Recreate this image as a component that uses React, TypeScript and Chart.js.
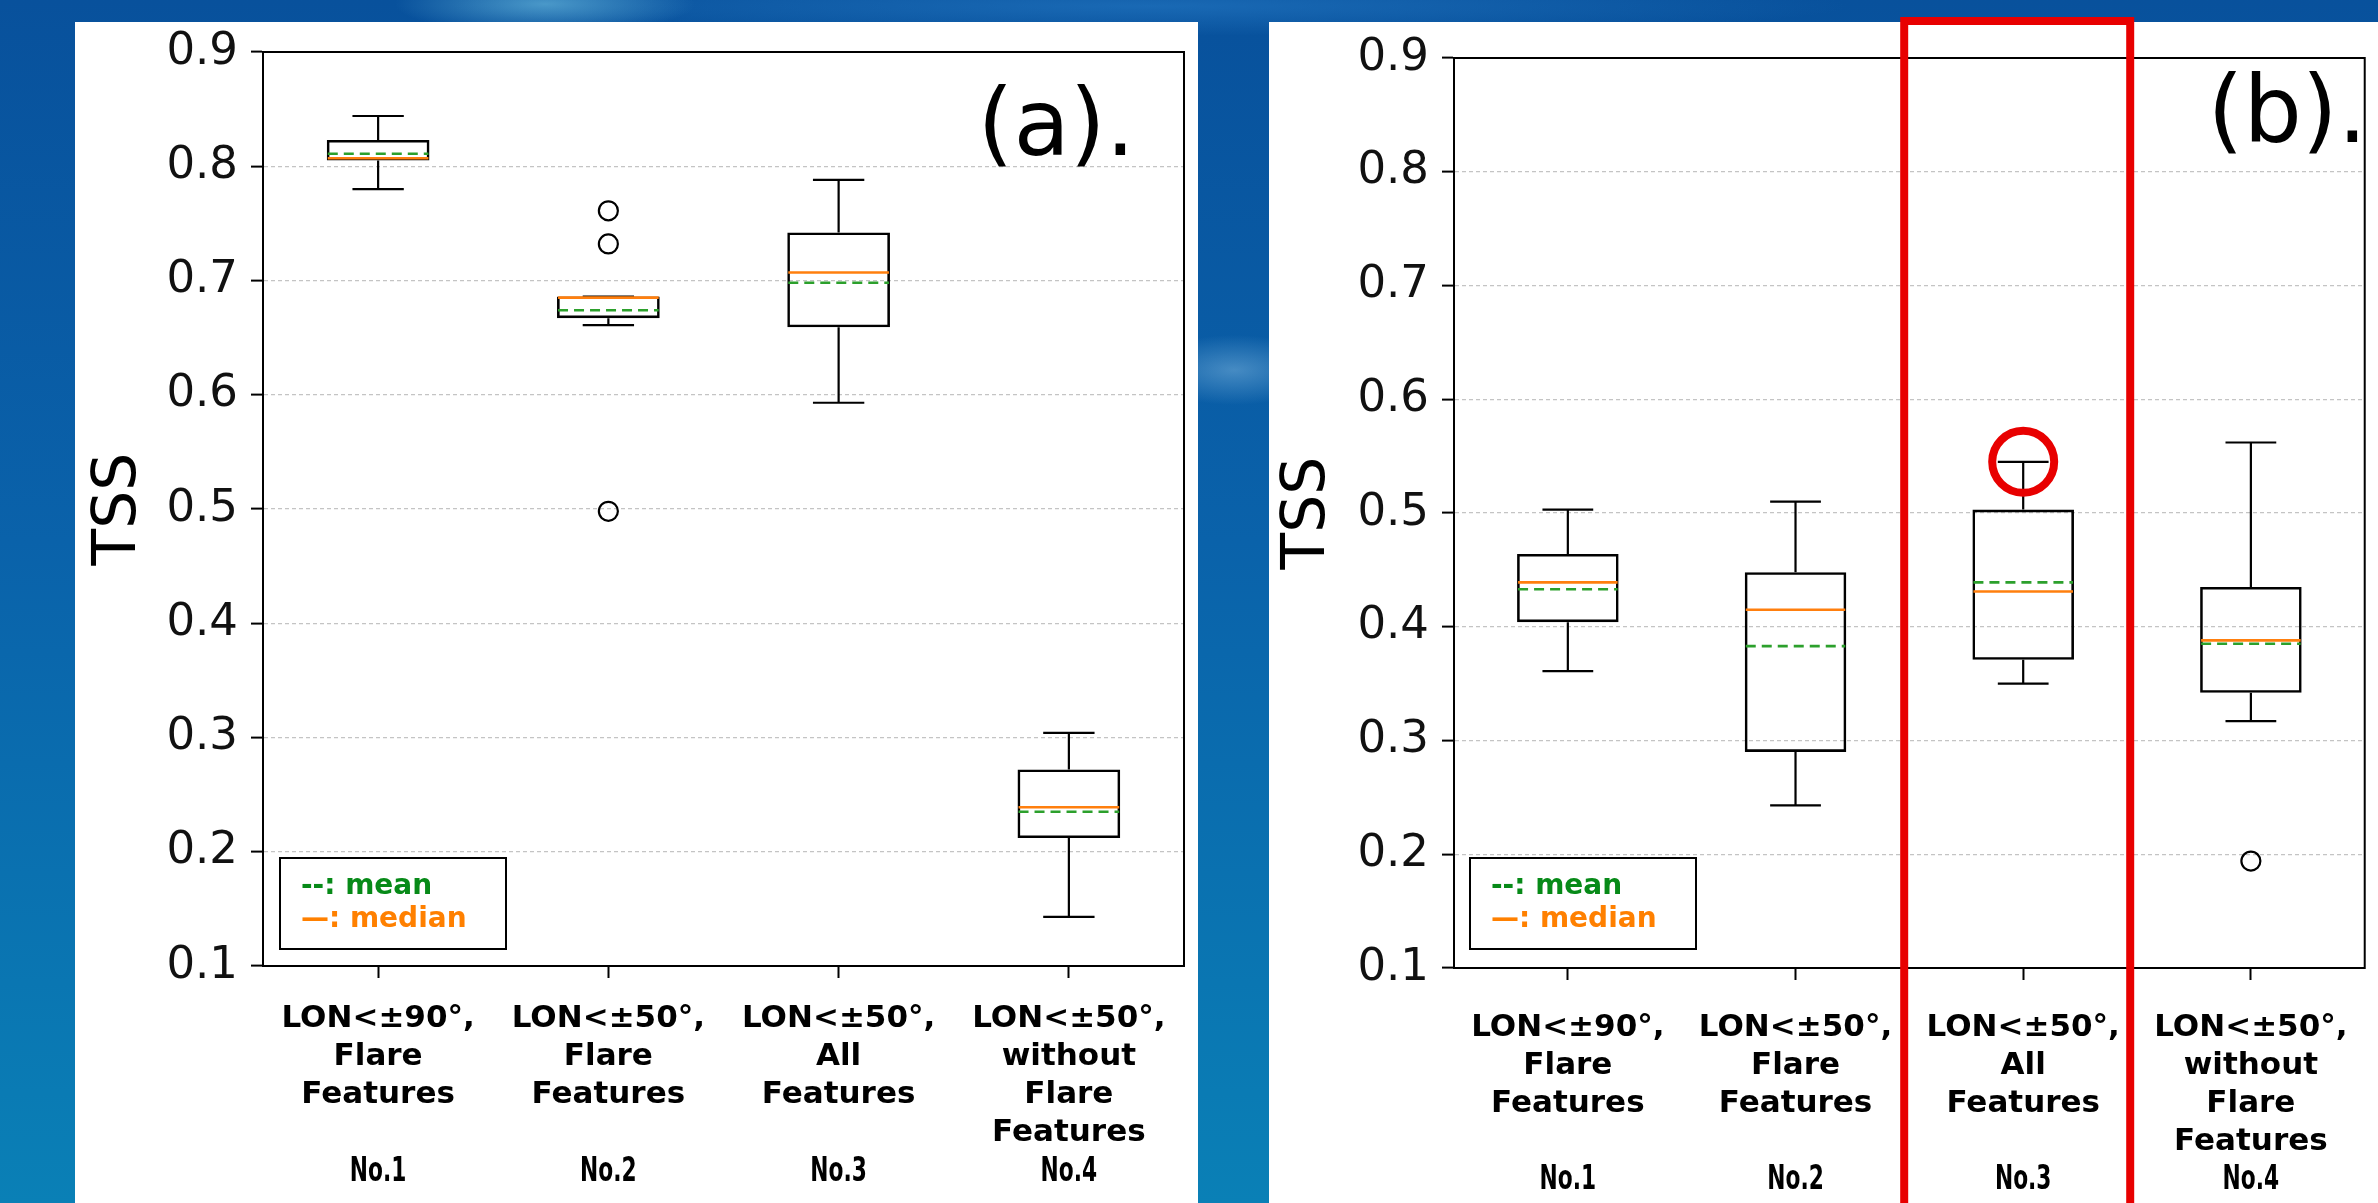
import React, { useEffect, useRef } from "react";
import { Chart, registerables } from "chart.js";

Chart.register(...registerables);

// ---------- data ----------
const categoryNumbers = ["No.1", "No.2", "No.3", "No.4"];
const categoryLines = [
  ["LON<±90°,", "Flare", "Features"],
  ["LON<±50°,", "Flare", "Features"],
  ["LON<±50°,", "All", "Features"],
  ["LON<±50°,", "without", "Flare", "Features"],
];
const yTickValues = [0.1, 0.2, 0.3, 0.4, 0.5, 0.6, 0.7, 0.8, 0.9];
const yTickLabels = ["0.1", "0.2", "0.3", "0.4", "0.5", "0.6", "0.7", "0.8", "0.9"];
const yAxisTitle = "TSS";
const legendMean = "--: mean";
const legendMedian = "—: median";

// Panel (a)
const aWhiskerLow = [0.78, 0.661, 0.593, 0.143];
const aQ1 = [0.805, 0.667, 0.659, 0.212];
const aMedian = [0.807, 0.685, 0.707, 0.239];
const aMean = [0.811, 0.674, 0.698, 0.235];
const aQ3 = [0.823, 0.686, 0.742, 0.272];
const aWhiskerHigh = [0.844, 0.686, 0.788, 0.304];
const aOutlierCategory = [1, 1, 1];
const aOutlierValue = [0.761, 0.732, 0.498];

// Panel (b)
const bWhiskerLow = [0.361, 0.243, 0.35, 0.317];
const bQ1 = [0.404, 0.29, 0.371, 0.342];
const bMedian = [0.439, 0.415, 0.431, 0.388];
const bMean = [0.433, 0.383, 0.439, 0.385];
const bQ3 = [0.464, 0.448, 0.503, 0.435];
const bWhiskerHigh = [0.503, 0.51, 0.545, 0.562];
const bOutlierCategory = [3];
const bOutlierValue = [0.194];

// ---------- layout ----------
const PAGE_W = 2378;
const PAGE_H = 1203;
const WHITE_TOP = 22;
const FONT = "'DejaVu Sans', 'Noto Sans', sans-serif";

type PanelSpec = {
  tag: string;
  low: number[];
  q1: number[];
  median: number[];
  mean: number[];
  q3: number[];
  high: number[];
  outlierCategory: number[];
  outlierValue: number[];
  highlight: number | null;
  pageLeft: number;
  width: number;
  areaTop: number;
  areaBottom: number;
  yAxisWidth: number;
  rightPad: number;
  xLabelPad: number;
  titlePad: number;
  tagRight: number;
  tagBaseline: number;
  legendLeft: number;
  legendTop: number;
  noLabelY: number;
};

const panelA: PanelSpec = {
  tag: "(a).",
  low: aWhiskerLow,
  q1: aQ1,
  median: aMedian,
  mean: aMean,
  q3: aQ3,
  high: aWhiskerHigh,
  outlierCategory: aOutlierCategory,
  outlierValue: aOutlierValue,
  highlight: null,
  pageLeft: 75,
  width: 1123,
  areaTop: 52,
  areaBottom: 966,
  yAxisWidth: 188,
  rightPad: 14,
  xLabelPad: 22,
  titlePad: 8,
  tagRight: 1060,
  tagBaseline: 155,
  legendLeft: 205,
  legendTop: 858,
  noLabelY: 1172,
};

const panelB: PanelSpec = {
  tag: "(b).",
  low: bWhiskerLow,
  q1: bQ1,
  median: bMedian,
  mean: bMean,
  q3: bQ3,
  high: bWhiskerHigh,
  outlierCategory: bOutlierCategory,
  outlierValue: bOutlierValue,
  highlight: 2,
  pageLeft: 1269,
  width: 1109,
  areaTop: 58,
  areaBottom: 968,
  yAxisWidth: 185,
  rightPad: 10,
  xLabelPad: 29,
  titlePad: 3,
  tagRight: 1098,
  tagBaseline: 142,
  legendLeft: 201,
  legendTop: 858,
  noLabelY: 1180,
};

function makePlugin(p: PanelSpec) {
  return {
    id: "tssBox",
    beforeDraw(chart: any) {
      const ctx = chart.ctx;
      ctx.save();
      ctx.fillStyle = "#ffffff";
      ctx.fillRect(0, WHITE_TOP, chart.width, chart.height - WHITE_TOP);
      ctx.restore();
    },
    afterDatasetsDraw(chart: any) {
      const ctx: CanvasRenderingContext2D = chart.ctx;
      const xs = chart.scales.x;
      const ys = chart.scales.y;
      const area = chart.chartArea;
      const meta = chart.getDatasetMeta(0);
      ctx.save();
      for (let i = 0; i < p.q1.length; i++) {
        const bar: any = meta.data[i];
        const cx = xs.getPixelForValue(i);
        const w = bar.width;
        const yLow = ys.getPixelForValue(p.low[i]);
        const yQ1 = ys.getPixelForValue(p.q1[i]);
        const yMed = ys.getPixelForValue(p.median[i]);
        const yMean = ys.getPixelForValue(p.mean[i]);
        const yQ3 = ys.getPixelForValue(p.q3[i]);
        const yHigh = ys.getPixelForValue(p.high[i]);
        ctx.setLineDash([]);
        ctx.strokeStyle = "#000";
        ctx.lineWidth = 2.2;
        ctx.beginPath();
        ctx.moveTo(cx, yQ3);
        ctx.lineTo(cx, yHigh);
        ctx.moveTo(cx, yQ1);
        ctx.lineTo(cx, yLow);
        ctx.moveTo(cx - w / 4, yHigh);
        ctx.lineTo(cx + w / 4, yHigh);
        ctx.moveTo(cx - w / 4, yLow);
        ctx.lineTo(cx + w / 4, yLow);
        ctx.stroke();
        // median
        ctx.strokeStyle = "#ff7f0e";
        ctx.lineWidth = 2.6;
        ctx.beginPath();
        ctx.moveTo(cx - w / 2 + 1, yMed);
        ctx.lineTo(cx + w / 2 - 1, yMed);
        ctx.stroke();
        // mean
        ctx.strokeStyle = "#2ca02c";
        ctx.lineWidth = 2.6;
        ctx.setLineDash([10, 6]);
        ctx.beginPath();
        ctx.moveTo(cx - w / 2 + 1, yMean);
        ctx.lineTo(cx + w / 2 - 1, yMean);
        ctx.stroke();
      }
      ctx.setLineDash([]);

      // frame
      ctx.strokeStyle = "#000";
      ctx.lineWidth = 2;
      ctx.strokeRect(area.left, area.top, area.right - area.left, area.bottom - area.top);

      // legend box
      ctx.fillStyle = "#fff";
      ctx.fillRect(p.legendLeft, p.legendTop, 226, 91);
      ctx.strokeStyle = "#000";
      ctx.lineWidth = 2;
      ctx.strokeRect(p.legendLeft, p.legendTop, 226, 91);
      ctx.textAlign = "left";
      ctx.textBaseline = "alphabetic";
      ctx.font = `bold 28px ${FONT}`;
      ctx.fillStyle = "#078a18";
      ctx.fillText(legendMean, p.legendLeft + 21, p.legendTop + 36);
      ctx.fillStyle = "#ff8000";
      ctx.fillText(legendMedian, p.legendLeft + 21, p.legendTop + 69);

      // panel tag
      ctx.fillStyle = "#000";
      ctx.textAlign = "right";
      ctx.font = `92px ${FONT}`;
      ctx.fillText(p.tag, p.tagRight, p.tagBaseline);

      // No. labels (narrow face: horizontally condensed text)
      ctx.textAlign = "center";
      ctx.textBaseline = "middle";
      ctx.font = `bold 34px ${FONT}`;
      for (let i = 0; i < categoryNumbers.length; i++) {
        const nx = xs.getPixelForValue(i);
        ctx.save();
        ctx.translate(nx, p.noLabelY);
        ctx.scale(0.64, 1);
        ctx.fillText(categoryNumbers[i], 0, 0);
        ctx.restore();
      }

      // highlight
      if (p.highlight !== null) {
        const hx = xs.getPixelForValue(p.highlight);
        ctx.strokeStyle = "#e80000";
        ctx.lineWidth = 8;
        ctx.strokeRect(hx - 119, 21, 226, PAGE_H + 10);
        ctx.beginPath();
        ctx.arc(hx, ys.getPixelForValue(p.high[p.highlight]), 31, 0, Math.PI * 2);
        ctx.stroke();
      }
      ctx.restore();
    },
  };
}

function buildConfig(p: PanelSpec): any {
  return {
    type: "bar",
    data: {
      labels: categoryNumbers,
      datasets: [
        {
          type: "bar",
          data: p.q1.map((v, i) => [v, p.q3[i]]),
          backgroundColor: "rgba(0,0,0,0)",
          borderColor: "#000",
          borderWidth: 2.6,
          borderSkipped: false,
          barPercentage: 0.446,
          categoryPercentage: 1,
          xAxisID: "x",
          yAxisID: "y",
        },
        {
          type: "scatter",
          data: p.outlierCategory.map((c, k) => ({ x: categoryNumbers[c], y: p.outlierValue[k] })),
          pointRadius: 9.5,
          pointHoverRadius: 9.5,
          pointBorderWidth: 2.2,
          pointBorderColor: "#000",
          pointBackgroundColor: "rgba(0,0,0,0)",
          showLine: false,
          xAxisID: "x",
          yAxisID: "y",
        },
      ],
    },
    options: {
      responsive: false,
      maintainAspectRatio: false,
      animation: false,
      devicePixelRatio: 1,
      events: [],
      layout: { padding: { top: p.areaTop, right: p.rightPad, left: 0, bottom: 0 } },
      plugins: { legend: { display: false }, tooltip: { enabled: false } },
      scales: {
        x: {
          type: "category",
          offset: true,
          grid: {
            display: true,
            drawOnChartArea: false,
            drawTicks: true,
            tickLength: 12,
            tickWidth: 2,
            tickColor: "#000",
            offset: false,
          },
          border: { display: true, color: "#000", width: 2 },
          ticks: {
            callback: (_v: any, i: number) => categoryLines[i],
            color: "#000",
            font: { family: FONT, size: 31, weight: "bold", lineHeight: 38 / 31 },
            padding: p.xLabelPad,
            maxRotation: 0,
            minRotation: 0,
            autoSkip: false,
          },
          afterFit: (s: any) => {
            s.height = PAGE_H - p.areaBottom;
          },
        },
        y: {
          type: "linear",
          min: 0.1,
          max: 0.9,
          afterBuildTicks: (s: any) => {
            s.ticks = yTickValues.map((v) => ({ value: v }));
          },
          ticks: {
            callback: (_v: any, i: number) => yTickLabels[i],
            color: "#111",
            font: { family: FONT, size: 45 },
            padding: 13,
          },
          grid: {
            color: (c: any) => {
              const v = c.tick ? c.tick.value : 0;
              return Math.abs(v - 0.1) < 1e-6 || Math.abs(v - 0.9) < 1e-6 ? "rgba(0,0,0,0)" : "#c4c4c4";
            },
            lineWidth: 1.2,
            tickLength: 12,
            tickWidth: 2,
            tickColor: "#000",
          },
          border: { display: true, color: "#000", width: 2, dash: [4, 3] },
          title: {
            display: true,
            text: yAxisTitle,
            color: "#000",
            font: { family: FONT, size: 60 },
            padding: { top: p.titlePad, bottom: 0 },
          },
          afterFit: (s: any) => {
            s.width = p.yAxisWidth;
          },
        },
      },
    },
    plugins: [makePlugin(p)],
  };
}

function PanelChart({ spec }: { spec: PanelSpec }) {
  const ref = useRef<HTMLCanvasElement>(null);
  useEffect(() => {
    if (!ref.current) return;
    const chart = new Chart(ref.current, buildConfig(spec));
    return () => chart.destroy();
  }, [spec]);
  return (
    <canvas
      ref={ref}
      width={spec.width}
      height={PAGE_H}
      style={{ position: "absolute", left: spec.pageLeft, top: 0, width: spec.width, height: PAGE_H }}
    />
  );
}

export default function App() {
  useEffect(() => {
    document.body.style.margin = "0";
    document.body.style.overflow = "hidden";
  }, []);
  return (
    <div
      style={{
        position: "absolute",
        left: 0,
        top: 0,
        width: PAGE_W,
        height: PAGE_H,
        overflow: "hidden",
        background: [
          "radial-gradient(ellipse 150px 30px at 545px 4px, rgba(95,175,215,0.75), rgba(95,175,215,0) 100%)",
          "radial-gradient(ellipse 90px 35px at 1234px 370px, rgba(110,170,215,0.6), rgba(110,170,215,0) 100%)",
          "radial-gradient(ellipse 700px 30px at 1150px 6px, rgba(40,125,200,0.55), rgba(40,125,200,0) 100%)",
          "linear-gradient(180deg, #08519c 0%, #0a62aa 45%, #0a80b6 100%)",
        ].join(", "),
      }}
    >
      <PanelChart spec={panelA} />
      <PanelChart spec={panelB} />
    </div>
  );
}
